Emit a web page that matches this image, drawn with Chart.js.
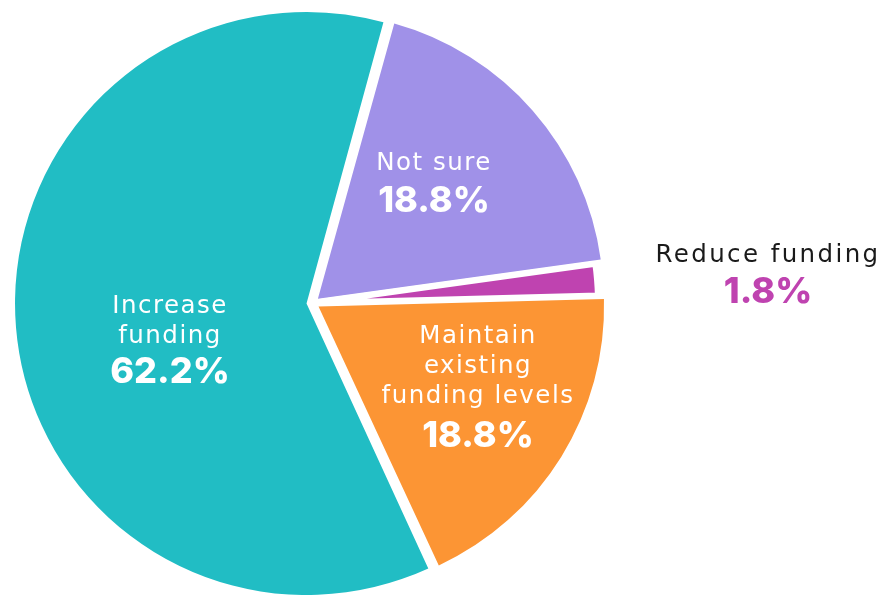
<!DOCTYPE html>
<html lang="en">
<head>
    <meta charset="UTF-8">
    <title>Funding preferences</title>
    <script src="https://cdn.jsdelivr.net/npm/chart.js"></script>
    <style>
        * {
            margin: 0;
            padding: 0;
            box-sizing: border-box;
        }

        body {
            background: white;
            width: 887px;
            height: 595px;
            overflow: hidden;
        }
    </style>
</head>
<body>
    <canvas id="fundingChart" width="887" height="595"></canvas>

    <script>
        // Survey answers, clockwise from the top
        const categories = ['Not sure', 'Reduce funding', 'Maintain existing funding levels', 'Increase funding'];
        const shares = [18.8, 1.8, 18.8, 62.2];
        const sliceColors = ['#a091e8', '#bf43b0', '#fc9534', '#21bdc4'];

        // Wrapped label text for each slice
        const labelLines = [
            ['Not sure'],
            ['Reduce funding'],
            ['Maintain', 'existing', 'funding levels'],
            ['Increase', 'funding']
        ];

        // Label placement relative to the pie centre: x, first baseline, value baseline
        const labelSpots = [
            { dx: 121, dy: -133, numDy: -91, inside: true },
            { dx: 455, dy: -41, numDy: 0, inside: false },
            { dx: 165, dy: 40, numDy: 144, inside: true },
            { dx: -143, dy: 10, numDy: 80, inside: true }
        ];

        const sliceLabels = {
            id: 'sliceLabels',
            afterDatasetsDraw(chart) {
                const ctx = chart.ctx;
                const arcs = chart.getDatasetMeta(0).data;
                ctx.save();
                ctx.textAlign = 'center';
                ctx.textBaseline = 'alphabetic';
                arcs.forEach((arc, i) => {
                    const { x, y } = arc.getProps(['x', 'y'], true);
                    const spot = labelSpots[i];
                    const cx = x + spot.dx;

                    ctx.font = '400 24.5px "DejaVu Sans"';
                    ctx.letterSpacing = spot.inside ? '1.5px' : '2.4px';
                    ctx.fillStyle = spot.inside ? '#ffffff' : '#1a1a1a';
                    labelLines[i].forEach((line, k) => {
                        ctx.fillText(line, cx, y + spot.dy + k * 30);
                    });

                    ctx.font = '800 36px Inter';
                    ctx.letterSpacing = '0px';
                    ctx.fillStyle = spot.inside ? '#ffffff' : sliceColors[i];
                    ctx.fillText(shares[i].toFixed(1) + '%', cx, y + spot.numDy);
                });
                ctx.restore();
            }
        };

        new Chart(document.getElementById('fundingChart'), {
            type: 'pie',
            data: {
                labels: categories,
                datasets: [{
                    data: shares,
                    backgroundColor: sliceColors,
                    borderColor: '#ffffff',
                    // white edge on the thin slice hides its point near the centre
                    borderWidth: [0, 6, 0, 0],
                    // the thin slice stays put so it does not swell past the others
                    offset: [26, 0, 26, 26]
                }]
            },
            options: {
                responsive: false,
                animation: false,
                rotation: 15.5,
                radius: 285,
                layout: {
                    padding: { left: 0, right: 261, top: 11, bottom: 0 }
                },
                plugins: {
                    legend: { display: false },
                    tooltip: { enabled: false }
                }
            },
            plugins: [sliceLabels]
        });
    </script>
</body>
</html>
